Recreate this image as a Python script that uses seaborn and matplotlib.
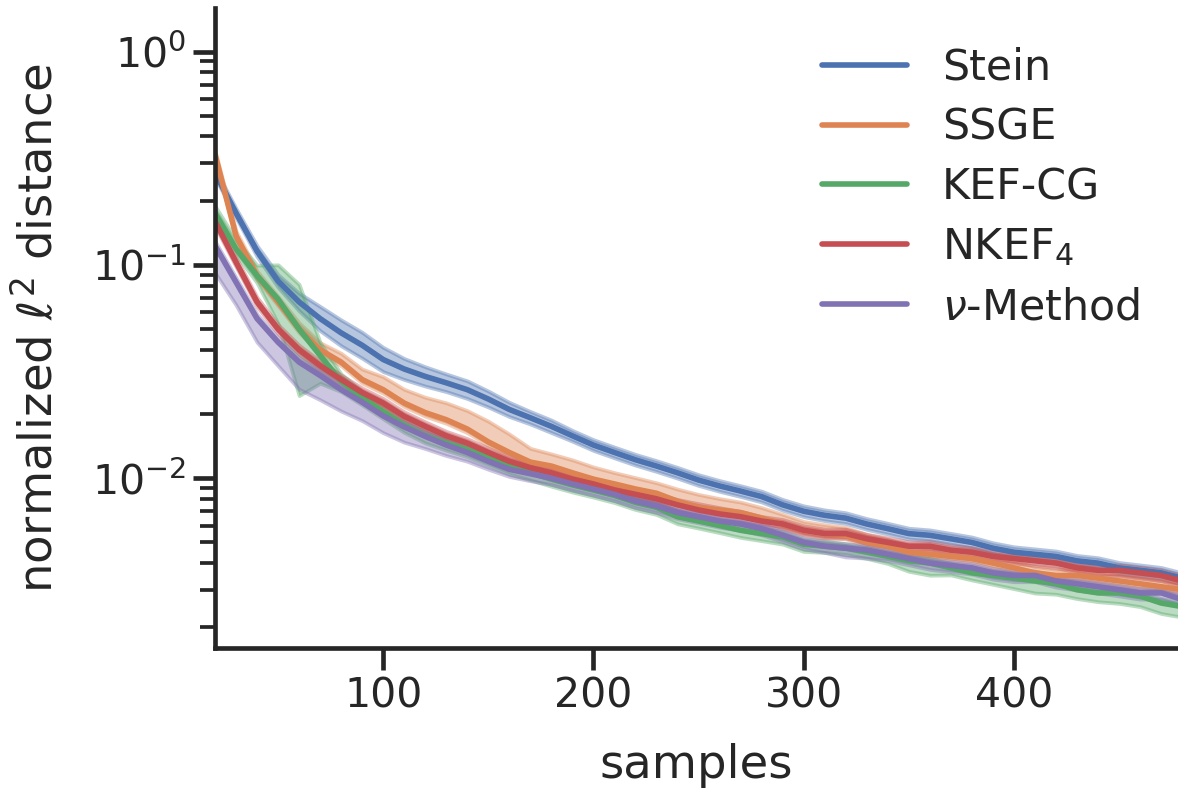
import numpy as np
import pandas as pd
import matplotlib
matplotlib.use("Agg")
import matplotlib.pyplot as plt
import seaborn as sns

# samples on the x axis
samples = list(range(20, 481, 10))

methods = ["Stein", "SSGE", "KEF-CG", "NKEF$_4$", r"$\nu$-Method"]

# mean normalized l2 distance
stein = [0.27, 0.175, 0.116, 0.084, 0.067, 0.056, 0.048, 0.042, 0.036, 0.0325,
         0.030, 0.028, 0.026, 0.0235, 0.021, 0.0192, 0.0175, 0.0158, 0.0143, 0.0132,
         0.0122, 0.0114, 0.0106, 0.0098, 0.0092, 0.0087, 0.0082, 0.0075, 0.0070, 0.0067,
         0.0065, 0.0061, 0.0058, 0.0055, 0.0054, 0.0052, 0.0050, 0.0047, 0.0045, 0.0044,
         0.0043, 0.0041, 0.0040, 0.0038, 0.0037, 0.0036, 0.0034]
ssge = [0.33, 0.137, 0.089, 0.067, 0.050, 0.040, 0.035, 0.029, 0.026, 0.0225,
        0.0203, 0.0188, 0.0170, 0.0148, 0.0132, 0.0119, 0.0114, 0.0106, 0.0099, 0.0094,
        0.0089, 0.0085, 0.0078, 0.0073, 0.0071, 0.0069, 0.0065, 0.0061, 0.0057, 0.0055,
        0.0054, 0.0050, 0.0048, 0.0045, 0.0044, 0.0043, 0.0042, 0.0040, 0.0038, 0.0036,
        0.0035, 0.0035, 0.0034, 0.0033, 0.0032, 0.0031, 0.0030]
kef_cg = [0.175, 0.119, 0.089, 0.069, 0.050, 0.0376, 0.0285, 0.0238, 0.0205, 0.0177,
          0.0158, 0.0146, 0.0136, 0.0124, 0.0113, 0.0106, 0.0099, 0.0093, 0.0088, 0.0083,
          0.0077, 0.0073, 0.0066, 0.0063, 0.0060, 0.0057, 0.0055, 0.0053, 0.0049, 0.0048,
          0.0047, 0.0045, 0.0043, 0.0041, 0.0040, 0.0038, 0.0036, 0.0035, 0.0034, 0.0033,
          0.0032, 0.0030, 0.0029, 0.0029, 0.0028, 0.0026, 0.0025]
nkef4 = [0.16, 0.103, 0.067, 0.050, 0.040, 0.0337, 0.029, 0.0252, 0.0225, 0.0195,
         0.0175, 0.0158, 0.0146, 0.0132, 0.0120, 0.0112, 0.0106, 0.0099, 0.0094, 0.0088,
         0.0084, 0.0080, 0.0075, 0.0071, 0.0068, 0.0066, 0.0063, 0.0061, 0.0057, 0.0055,
         0.0055, 0.0052, 0.0050, 0.0048, 0.0048, 0.0046, 0.0045, 0.0043, 0.0042, 0.0041,
         0.0040, 0.0038, 0.0037, 0.0037, 0.0036, 0.0035, 0.0033]
nu_method = [0.123, 0.083, 0.056, 0.0434, 0.035, 0.0303, 0.026, 0.0227, 0.0196, 0.0174,
             0.0157, 0.0143, 0.0132, 0.0120, 0.0110, 0.0105, 0.0100, 0.0094, 0.0089, 0.0084,
             0.0078, 0.0074, 0.0069, 0.0066, 0.0063, 0.0061, 0.0058, 0.0054, 0.0050, 0.0048,
             0.0047, 0.0046, 0.0044, 0.0042, 0.0040, 0.0039, 0.0038, 0.0036, 0.0035, 0.0035,
             0.0033, 0.0032, 0.0031, 0.0030, 0.0029, 0.0029, 0.0027]

# relative width of the shaded band above (hi = mean*(1+s)) and below (lo = mean/(1+s))
stein_hi = [0.05, 0.05, 0.06, 0.07, 0.10, 0.14, 0.15, 0.15, 0.14, 0.12,
            0.11, 0.10, 0.10, 0.09, 0.08, 0.07, 0.07, 0.06, 0.06, 0.06,
            0.06, 0.06, 0.06, 0.06, 0.06, 0.06, 0.06, 0.06, 0.06, 0.06,
            0.06, 0.06, 0.06, 0.06, 0.06, 0.06, 0.06, 0.06, 0.06, 0.06,
            0.06, 0.06, 0.06, 0.06, 0.06, 0.06, 0.06]
stein_lo = stein_hi
ssge_hi = [0.04, 0.05, 0.05, 0.06, 0.07, 0.08, 0.10, 0.12, 0.15, 0.16,
           0.18, 0.20, 0.22, 0.25, 0.22, 0.16, 0.14, 0.15, 0.14, 0.13,
           0.13, 0.12, 0.14, 0.15, 0.13, 0.12, 0.12, 0.11, 0.10, 0.10,
           0.09, 0.09, 0.08, 0.07, 0.07, 0.07, 0.07, 0.07, 0.07, 0.07,
           0.07, 0.07, 0.07, 0.07, 0.07, 0.07, 0.07]
ssge_lo = [0.04, 0.04, 0.04, 0.04, 0.04, 0.04, 0.04, 0.04, 0.04, 0.04,
           0.04, 0.04, 0.04, 0.04, 0.04, 0.04, 0.04, 0.04, 0.04, 0.04,
           0.04, 0.04, 0.04, 0.04, 0.04, 0.04, 0.04, 0.04, 0.04, 0.04,
           0.04, 0.04, 0.04, 0.04, 0.04, 0.04, 0.04, 0.05, 0.05, 0.05,
           0.05, 0.05, 0.05, 0.05, 0.05, 0.05, 0.05]
kef_cg_hi = [0.08, 0.10, 0.12, 0.45, 0.62, 0.15, 0.08, 0.07, 0.06, 0.06,
             0.06, 0.06, 0.06, 0.06, 0.06, 0.06, 0.06, 0.06, 0.06, 0.06,
             0.06, 0.06, 0.06, 0.06, 0.06, 0.06, 0.06, 0.06, 0.06, 0.06,
             0.05, 0.05, 0.05, 0.05, 0.05, 0.05, 0.05, 0.05, 0.05, 0.05,
             0.05, 0.05, 0.05, 0.05, 0.05, 0.05, 0.05]
kef_cg_lo = [0.06, 0.06, 0.08, 0.30, 1.05, 0.35, 0.12, 0.08, 0.08, 0.08,
             0.08, 0.08, 0.08, 0.08, 0.08, 0.08, 0.08, 0.08, 0.08, 0.08,
             0.08, 0.08, 0.08, 0.08, 0.08, 0.08, 0.08, 0.08, 0.08, 0.07,
             0.07, 0.07, 0.08, 0.12, 0.14, 0.08, 0.08, 0.10, 0.12, 0.14,
             0.12, 0.10, 0.10, 0.12, 0.12, 0.12, 0.12]
nkef4_hi = [0.05, 0.05, 0.05, 0.05, 0.05, 0.05, 0.05, 0.05, 0.05, 0.05,
            0.05, 0.05, 0.05, 0.05, 0.05, 0.05, 0.05, 0.05, 0.05, 0.05,
            0.05, 0.05, 0.06, 0.07, 0.07, 0.06, 0.05, 0.05, 0.05, 0.05,
            0.05, 0.05, 0.05, 0.05, 0.05, 0.05, 0.05, 0.05, 0.05, 0.05,
            0.05, 0.05, 0.06, 0.06, 0.06, 0.06, 0.06]
nkef4_lo = nkef4_hi
nu_method_hi = [0.05, 0.05, 0.05, 0.05, 0.05, 0.05, 0.05, 0.05, 0.05, 0.05,
                0.05, 0.05, 0.05, 0.05, 0.05, 0.05, 0.05, 0.05, 0.05, 0.05,
                0.05, 0.05, 0.05, 0.05, 0.05, 0.05, 0.05, 0.05, 0.05, 0.05,
                0.05, 0.05, 0.05, 0.05, 0.05, 0.05, 0.05, 0.05, 0.05, 0.05,
                0.05, 0.05, 0.05, 0.05, 0.05, 0.05, 0.05]
nu_method_lo = [0.34, 0.28, 0.29, 0.29, 0.34, 0.30, 0.26, 0.22, 0.20, 0.18,
                0.14, 0.12, 0.10, 0.09, 0.08, 0.08, 0.07, 0.07, 0.07, 0.07,
                0.07, 0.07, 0.07, 0.07, 0.07, 0.07, 0.07, 0.07, 0.07, 0.07,
                0.10, 0.09, 0.07, 0.07, 0.07, 0.07, 0.07, 0.07, 0.07, 0.07,
                0.07, 0.07, 0.07, 0.07, 0.07, 0.07, 0.07]

means = [stein, ssge, kef_cg, nkef4, nu_method]
his = [stein_hi, ssge_hi, kef_cg_hi, nkef4_hi, nu_method_hi]
los = [stein_lo, ssge_lo, kef_cg_lo, nkef4_lo, nu_method_lo]

# long table: three rows per point (lo, mean, hi) -> median line + min/max band
rows = []
for name, m, h, l in zip(methods, means, his, los):
    for x, v, sh, sl in zip(samples, m, h, l):
        for val in (v / (1 + sl), v, v * (1 + sh)):
            rows.append({"samples": x, "dist": val, "method": name})
df = pd.DataFrame(rows)

sns.set_theme(style="ticks", context="poster")
plt.rcParams["font.family"] = ["DejaVu Sans"]

fig = plt.figure(figsize=(1178 / 134, 788 / 134), dpi=134)
ax = fig.add_axes([215 / 1178, 1 - 648 / 788, (1178 - 215) / 1178, 640 / 788])

sns.lineplot(data=df, x="samples", y="dist", hue="method", hue_order=methods,
             estimator="median", errorbar=("pi", 100), err_kws={"alpha": 0.4},
             palette="deep", ax=ax)

ax.set_yscale("log")
ax.set_xlim(20, 478)
ax.set_ylim(0.0016, 1.6)
ax.set_xticks([100, 200, 300, 400])
ax.set_xlabel("samples", fontsize=25, labelpad=14)
ax.set_ylabel(r"normalized $\ell^2$ distance", fontsize=25, labelpad=16)
ax.legend(loc="upper right", frameon=False, fontsize=23, labelspacing=0.42)
sns.despine(ax=ax)

fig.savefig("out.png", dpi=134)
